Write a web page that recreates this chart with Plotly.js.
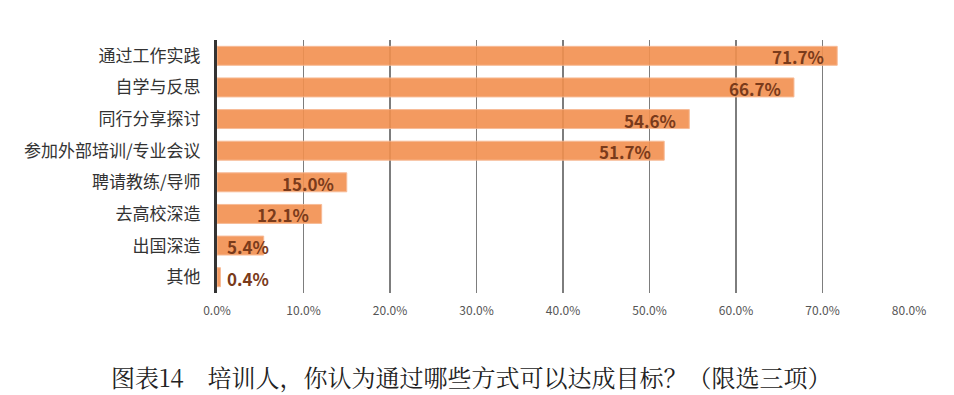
<!DOCTYPE html>
<html><head><meta charset="utf-8">
<script src="https://cdn.plot.ly/plotly-3.0.1.min.js"></script>
<style>html,body{margin:0;padding:0;background:#fff}#chart{width:954px;height:395px}</style>
</head><body><div id="chart"></div>
<script>
const categories = ["通过工作实践","自学与反思","同行分享探讨","参加外部培训/专业会议","聘请教练/导师","去高校深造","出国深造","其他"];
const values = [71.7, 66.7, 54.6, 51.7, 15.0, 12.1, 5.4, 0.4];
const xTicks = [0,10,20,30,40,50,60,70,80];
const xTickLabels = ["0.0%","10.0%","20.0%","30.0%","40.0%","50.0%","60.0%","70.0%","80.0%"];
const chartTitle = "图表14　培训人，你认为通过哪些方式可以达成目标？（限选三项）";

const font = "Noto Sans CJK SC, Noto Sans, sans-serif";
const trace = {
  type: "bar", orientation: "h",
  y: categories, x: values,
  marker: {color: "#F2904F", opacity: 0.9, line: {color: "#F7B48C", width: 1}},
  width: 0.6,
  hoverinfo: "none"
};
const labelAnns = categories.map((c, i) => {
  const v = values[i];
  const small = v < 8;
  return {
    x: small ? 0 : v, y: c, xref: "x", yref: "y",
    text: v.toFixed(1) + "%",
    xanchor: small ? "left" : "right", yanchor: "middle",
    xshift: small ? 8 : -11, yshift: -1,
    showarrow: false,
    font: {family: font, size: 17, color: "#7a3b1b", weight: 700}
  };
});
const layout = {
  width: 954, height: 395,
  margin: {l: 217, r: 45, t: 40, b: 102},
  paper_bgcolor: "#fff", plot_bgcolor: "#fff",
  showlegend: false,
  xaxis: {
    range: [0, 80], tickvals: xTicks, ticktext: xTickLabels,
    showgrid: true, gridcolor: "#7d7d7d", gridwidth: 1.5,
    zeroline: false, showline: false, ticks: "",
    ticklabelstandoff: 9,
    tickfont: {family: font, size: 12, color: "#555"}
  },
  yaxis: {
    autorange: "reversed", showgrid: false, zeroline: false,
    showline: true, linecolor: "#333", linewidth: 3,
    ticks: "", ticklabelstandoff: 10,
    tickfont: {family: font, size: 17, color: "#333"}
  },
  annotations: labelAnns.concat([{
    text: chartTitle, xref: "paper", yref: "paper",
    x: 0.368, y: -0.329, xanchor: "center", yanchor: "middle",
    showarrow: false,
    font: {family: "Noto Serif CJK SC, Liberation Serif, DejaVu Serif, serif", size: 24, color: "#222"}
  }])
};
Plotly.newPlot("chart", [trace], layout, {displayModeBar: false, staticPlot: true});
</script></body></html>
